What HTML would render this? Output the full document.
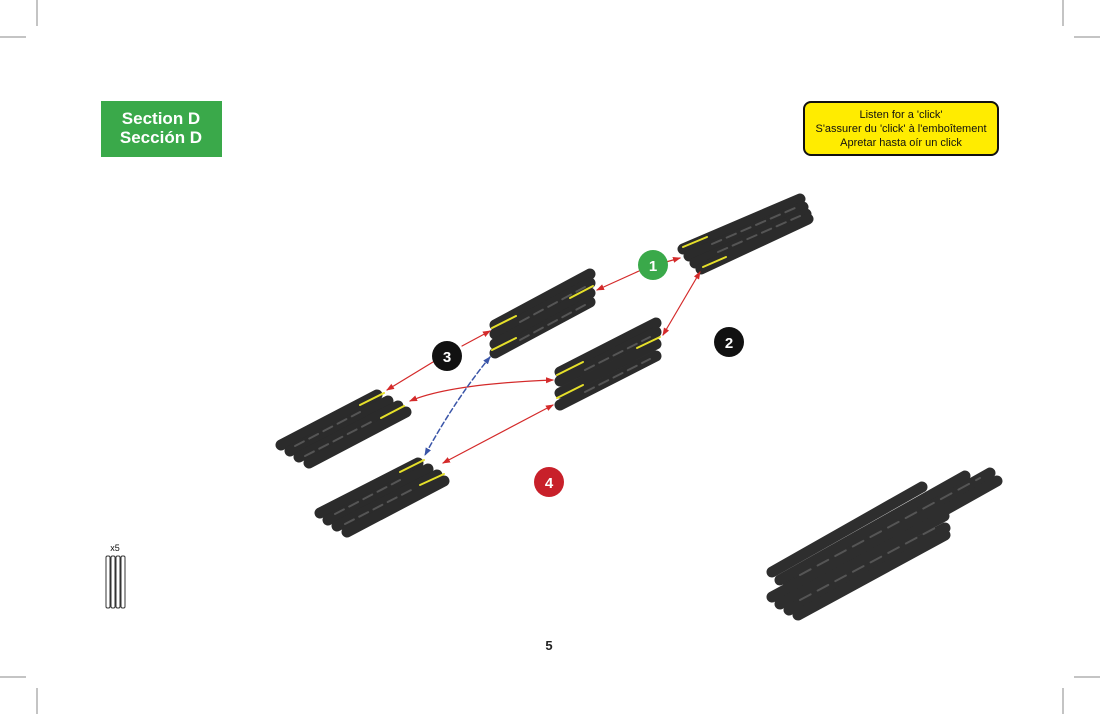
<!DOCTYPE html>
<html><head><style>
html,body{margin:0;padding:0;background:#fff;}
body{width:1100px;height:714px;position:relative;overflow:hidden;font-family:"Liberation Sans",sans-serif;}
</style></head><body>
<svg width="1100" height="714" viewBox="0 0 1100 714" xmlns="http://www.w3.org/2000/svg" style="position:absolute;left:0;top:0">
<defs>
<marker id="ar" markerWidth="8" markerHeight="8" refX="7" refY="4" orient="auto-start-reverse" markerUnits="userSpaceOnUse"><path d="M0,1 L8,4 L0,7 Z" fill="#d42a2a"/></marker>
<marker id="ab" markerWidth="8" markerHeight="8" refX="7" refY="4" orient="auto-start-reverse" markerUnits="userSpaceOnUse"><path d="M0,1 L8,4 L0,7 Z" fill="#3a55a8"/></marker>
</defs>
<g stroke="#888" stroke-width="1">
<line x1="37" y1="0" x2="37" y2="26"/><line x1="0" y1="37" x2="26" y2="37"/>
<line x1="1063" y1="0" x2="1063" y2="26"/><line x1="1074" y1="37" x2="1100" y2="37"/>
<line x1="37" y1="688" x2="37" y2="714"/><line x1="0" y1="677" x2="26" y2="677"/>
<line x1="1063" y1="688" x2="1063" y2="714"/><line x1="1074" y1="677" x2="1100" y2="677"/>
</g>
<rect x="101" y="101" width="121" height="56" fill="#3aa94a"/>
<text x="161" y="124" fill="#fff" font-size="17" font-weight="bold" text-anchor="middle">Section D</text>
<text x="161" y="143" fill="#fff" font-size="17" font-weight="bold" text-anchor="middle">Sección D</text>
<rect x="804" y="102" width="194" height="53" rx="7" fill="#ffec00" stroke="#111" stroke-width="2"/>
<text x="901" y="118" font-size="11" text-anchor="middle" fill="#111">Listen for a 'click'</text>
<text x="901" y="132" font-size="11" text-anchor="middle" fill="#111">S'assurer du 'click' à l'emboîtement</text>
<text x="901" y="146" font-size="11" text-anchor="middle" fill="#111">Apretar hasta oír un click</text>

<g stroke-linecap="round" fill="none">
<g stroke="#2b2b2b" stroke-width="11">
<line x1="683" y1="249" x2="800" y2="199"/><line x1="689" y1="256" x2="803" y2="207"/>
<line x1="695" y1="263" x2="806" y2="214"/><line x1="701" y1="269" x2="808" y2="219"/>
</g>
<g stroke="#555" stroke-width="2" stroke-dasharray="10,6"><line x1="712" y1="244" x2="795" y2="208"/><line x1="718" y1="252" x2="800" y2="216"/></g>
<g stroke="#e6e02a" stroke-width="2"><line x1="683" y1="247" x2="707" y2="237"/><line x1="703" y1="267" x2="726" y2="257"/></g>

<g stroke="#2b2b2b" stroke-width="11">
<line x1="495" y1="325" x2="590" y2="274"/><line x1="495" y1="334" x2="590" y2="283"/>
<line x1="495" y1="344" x2="590" y2="293"/><line x1="495" y1="353" x2="590" y2="302"/>
</g>
<g stroke="#555" stroke-width="2" stroke-dasharray="10,6"><line x1="520" y1="322" x2="585" y2="287"/><line x1="520" y1="340" x2="585" y2="305"/></g>
<g stroke="#e6e02a" stroke-width="2"><line x1="492" y1="328" x2="516" y2="316"/><line x1="492" y1="350" x2="516" y2="338"/><line x1="570" y1="298" x2="593" y2="286"/></g>

<g stroke="#2b2b2b" stroke-width="11">
<line x1="560" y1="372" x2="656" y2="323"/><line x1="560" y1="381" x2="656" y2="332"/>
<line x1="560" y1="393" x2="656" y2="344"/><line x1="560" y1="405" x2="656" y2="356"/>
</g>
<g stroke="#555" stroke-width="2" stroke-dasharray="10,6"><line x1="585" y1="370" x2="650" y2="337"/><line x1="585" y1="392" x2="650" y2="359"/></g>
<g stroke="#e6e02a" stroke-width="2"><line x1="557" y1="375" x2="583" y2="362"/><line x1="557" y1="398" x2="583" y2="385"/><line x1="637" y1="348" x2="660" y2="337"/></g>

<g stroke="#2b2b2b" stroke-width="11">
<line x1="281" y1="445" x2="377" y2="395"/><line x1="290" y1="451" x2="388" y2="401"/>
<line x1="299" y1="457" x2="398" y2="406"/><line x1="309" y1="463" x2="406" y2="412"/>
</g>
<g stroke="#555" stroke-width="2" stroke-dasharray="10,6"><line x1="295" y1="446" x2="360" y2="412"/><line x1="305" y1="456" x2="375" y2="420"/></g>
<g stroke="#e6e02a" stroke-width="2"><line x1="360" y1="405" x2="384" y2="393"/><line x1="381" y1="418" x2="404" y2="406"/></g>

<g stroke="#2b2b2b" stroke-width="11">
<line x1="320" y1="513" x2="418" y2="463"/><line x1="328" y1="520" x2="428" y2="469"/>
<line x1="337" y1="526" x2="437" y2="475"/><line x1="347" y1="532" x2="444" y2="481"/>
</g>
<g stroke="#555" stroke-width="2" stroke-dasharray="10,6"><line x1="335" y1="514" x2="400" y2="480"/><line x1="345" y1="524" x2="415" y2="488"/></g>
<g stroke="#e6e02a" stroke-width="2"><line x1="400" y1="472" x2="424" y2="460"/><line x1="420" y1="485" x2="444" y2="474"/></g>

<g stroke="#2e2e2e" stroke-width="11">
<line x1="772" y1="572" x2="922" y2="487"/><line x1="780" y1="580" x2="965" y2="476"/>
<line x1="788" y1="587" x2="990" y2="473"/><line x1="795" y1="594" x2="997" y2="481"/>
<line x1="772" y1="597" x2="940" y2="507"/><line x1="780" y1="604" x2="944" y2="516"/>
<line x1="789" y1="610" x2="945" y2="528"/><line x1="798" y1="615" x2="945" y2="535"/>
</g>
<g stroke="#555" stroke-width="2" stroke-dasharray="12,8"><line x1="800" y1="575" x2="980" y2="478"/><line x1="800" y1="600" x2="935" y2="528"/></g>

<g stroke="#d42a2a" stroke-width="1.2">
<line x1="666" y1="262" x2="680" y2="258" marker-end="url(#ar)"/>
<line x1="639" y1="271" x2="597" y2="290" marker-end="url(#ar)"/>
<line x1="700" y1="272" x2="663" y2="335" marker-start="url(#ar)" marker-end="url(#ar)"/>
<line x1="462" y1="346" x2="490" y2="331" marker-end="url(#ar)"/>
<line x1="433" y1="362" x2="387" y2="390" marker-end="url(#ar)"/>
<path d="M553,380 Q450,384 410,401" marker-start="url(#ar)" marker-end="url(#ar)"/>
<line x1="553" y1="405" x2="443" y2="463" marker-start="url(#ar)" marker-end="url(#ar)"/>
</g>
<path d="M490,357 Q455,400 425,455" stroke="#3a55a8" stroke-width="1.5" stroke-dasharray="5,3" marker-start="url(#ab)" marker-end="url(#ab)"/>
</g>
<circle cx="653" cy="265" r="15" fill="#3aa94a"/><text x="653" y="271" fill="#fff" font-size="15" font-weight="bold" text-anchor="middle">1</text>
<circle cx="729" cy="342" r="15" fill="#111"/><text x="729" y="348" fill="#fff" font-size="15" font-weight="bold" text-anchor="middle">2</text>
<circle cx="447" cy="356" r="15" fill="#111"/><text x="447" y="362" fill="#fff" font-size="15" font-weight="bold" text-anchor="middle">3</text>
<circle cx="549" cy="482" r="15" fill="#c8202a"/><text x="549" y="488" fill="#fff" font-size="15" font-weight="bold" text-anchor="middle">4</text>
<text x="115" y="551" font-size="9" text-anchor="middle" fill="#111">x5</text>
<g fill="#fff" stroke="#333" stroke-width="1">
<rect x="106" y="556" width="4" height="52" rx="1.5"/><rect x="111" y="556" width="4" height="52" rx="1.5"/>
<rect x="116" y="556" width="4" height="52" rx="1.5"/><rect x="121" y="556" width="4" height="52" rx="1.5"/>
</g>
<text x="549" y="650" font-size="13" font-weight="bold" text-anchor="middle" fill="#222">5</text>
</svg>
</body></html>
